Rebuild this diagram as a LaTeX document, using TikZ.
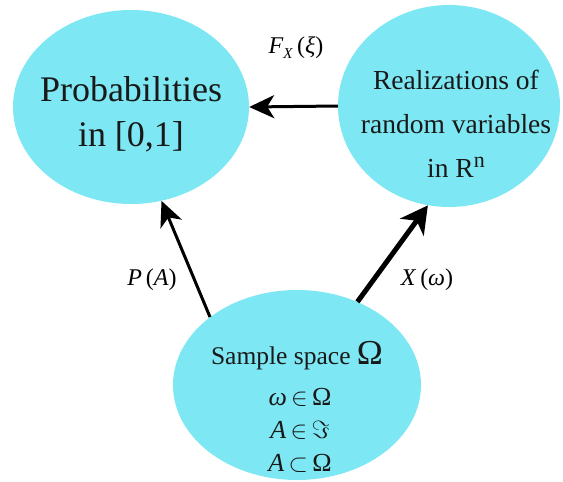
\documentclass[tikz,border=0pt]{standalone}
\usepackage{fontspec}
\setmainfont{Liberation Serif}
\usetikzlibrary{shapes.geometric,arrows.meta}
\definecolor{blob}{RGB}{125,232,243}
\newcommand{\bigsym}[1]{{\fontsize{29}{29}\selectfont$#1$}}
\begin{document}
\begin{tikzpicture}[x=1pt,y=-1pt,
  blobnode/.style={ellipse,fill=blob,draw=none,inner sep=0pt},
  txt/.style={align=center,inner sep=0pt,text=black!90},
  lbl/.style={inner sep=0pt,font=\fontsize{24}{26}\selectfont},
  arr/.style={line width=3pt,-{Stealth[length=25pt,width=23pt,inset=7pt]}},
  arrthick/.style={line width=5pt,-{Stealth[length=27pt,width=29pt,inset=8pt]}}]
\useasboundingbox (0,0) rectangle (563,482);
\node[blobnode,minimum width=236pt,minimum height=194pt] (prob) at (131,107) {};
\node[blobnode,minimum width=222pt,minimum height=202pt] (real) at (449,106) {};
\node[blobnode,minimum width=248pt,minimum height=190pt] (samp) at (297,385) {};
\node[txt,font=\fontsize{36}{45}\selectfont] (probtxt) at (131,114) {Probabilities\\in [0,1]};
\node[txt,font=\fontsize{27.5}{44}\selectfont] (realtxt) at (456,124) {Realizations of\\random variables\\in R\raisebox{10pt}{\fontsize{22}{22}\selectfont n}};
\node[txt,font=\fontsize{25.5}{30}\selectfont] (samptxt) at (297,356) {Sample space {\fontsize{35}{30}\selectfont Ω}};
\node[txt,font=\fontsize{26}{33}\selectfont] (samplines) at (300,430) {\textit{ω}\,\bigsym{\in}\,Ω\\\textit{A}\,\bigsym{\in}\,\bigsym{\Im}\\\textit{A}\,\bigsym{\subset}\,Ω};
\draw[arr] (real.180) -- (prob.0);
\draw[arr] (samp.142) -- (prob.-72);
\draw[arrthick] (samp.54) -- (real.-102);
\node[lbl] (flbl) at (296,48) {\textit{F}\raisebox{-5pt}{\fontsize{15}{15}\selectfont\textit{X}}\,(\textit{ξ})};
\node[lbl] (plbl) at (152,280) {\textit{P}\,(\textit{A})};
\node[lbl] (xlbl) at (427,280) {\textit{X}\,(\textit{ω})};
\end{tikzpicture}
\end{document}
